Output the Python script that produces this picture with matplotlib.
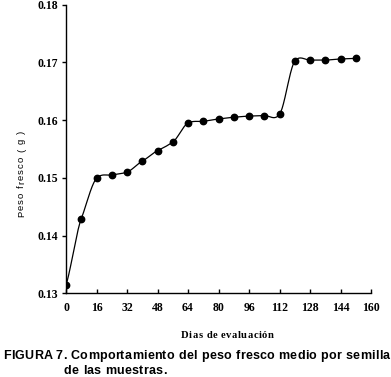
import numpy as np
import matplotlib
matplotlib.use('Agg')
import matplotlib.pyplot as plt

# Datos
dias = [0, 8, 16, 24, 32, 40, 48, 56, 64, 72, 80, 88, 96, 104, 112, 120, 128, 136, 144, 152]
peso = [0.1314, 0.1429, 0.1499, 0.1505, 0.1510, 0.1529, 0.1547, 0.1562, 0.1595, 0.1598,
        0.1602, 0.1605, 0.1607, 0.1608, 0.1610, 0.1702, 0.1704, 0.1704, 0.1706, 0.1707]
xticks = [0, 16, 32, 48, 64, 80, 96, 112, 128, 144, 160]
yticks = [0.13, 0.14, 0.15, 0.16, 0.17, 0.18]

W, H = 391, 377


def suave(x, y, n=40, tension=0.75):
    # línea suavizada tipo Catmull-Rom (como la de Excel)
    x = np.asarray(x, float)
    y = np.asarray(y, float)
    m = np.gradient(y, x) * tension
    xs, ys = [], []
    for i in range(len(x) - 1):
        h = x[i + 1] - x[i]
        t = np.linspace(0, 1, n)
        h00 = 2 * t**3 - 3 * t**2 + 1
        h10 = t**3 - 2 * t**2 + t
        h01 = -2 * t**3 + 3 * t**2
        h11 = t**3 - t**2
        xs.append(x[i] + t * h)
        ys.append(h00 * y[i] + h10 * h * m[i] + h01 * y[i + 1] + h11 * h * m[i + 1])
    return np.concatenate(xs), np.concatenate(ys)


fig = plt.figure(figsize=(W / 100, H / 100), dpi=100)
ax = fig.add_axes([66 / W, 1 - 293.3 / H, 305 / W, 288.6 / H])
renderer = fig.canvas.get_renderer()

xs, ys = suave(dias, peso)
ax.plot(xs, ys, color='black', lw=0.9)
ax.plot(dias, peso, 'o', color='black', ms=4.6)

ax.set_xlim(0, 160)
ax.set_ylim(0.13, 0.18)
ax.set_xticks(xticks)
ax.set_yticks(yticks)
ax.set_yticklabels(['%.2f' % v for v in yticks])
for s in ['top', 'right']:
    ax.spines[s].set_visible(False)
for s in ['left', 'bottom']:
    ax.spines[s].set_linewidth(1.0)
ax.tick_params(axis='x', direction='in', length=3, width=1, pad=6.5)
ax.tick_params(axis='y', direction='out', length=3, width=1, pad=3)
for lab in ax.get_xticklabels() + ax.get_yticklabels():
    lab.set_fontfamily('Liberation Serif')
    lab.set_fontweight('bold')
    lab.set_fontsize(8.5)


def ancho(s, **kw):
    t = fig.text(0, 0, s, **kw)
    w = t.get_window_extent(renderer).width
    t.remove()
    return w


def texto_espaciado(x, y, s, extra, rot=0, **kw):
    # texto con espaciado entre letras; x, y en píxeles (línea base)
    ref = ancho('|', **kw)
    c, sn = np.cos(np.deg2rad(rot)), np.sin(np.deg2rad(rot))
    for i, ch in enumerate(s):
        if ch == ' ':
            continue
        off = (ancho(s[:i] + '|', **kw) - ref if i else 0) + i * extra
        fig.text((x + off * c) / W, (y + off * sn) / H, ch, rotation=rot,
                 rotation_mode='anchor', ha='left', va='baseline', **kw)


texto_espaciado(181, H - 337.5, 'Dias de evaluación', 0.55,
                family='Liberation Serif', weight='bold', fontsize=7.6)
texto_espaciado(24, H - 217, 'Peso fresco ( g )', 1.0, rot=90,
                family='Liberation Sans', fontsize=6.8)
texto_espaciado(3, H - 359, 'FIGURA 7. Comportamiento del peso fresco medio por semilla', 0.3,
                family='Liberation Sans', weight='bold', fontsize=9)
texto_espaciado(64, H - 374, 'de las muestras.', 0.3,
                family='Liberation Sans', weight='bold', fontsize=9)

plt.savefig('out.png', dpi=100)
